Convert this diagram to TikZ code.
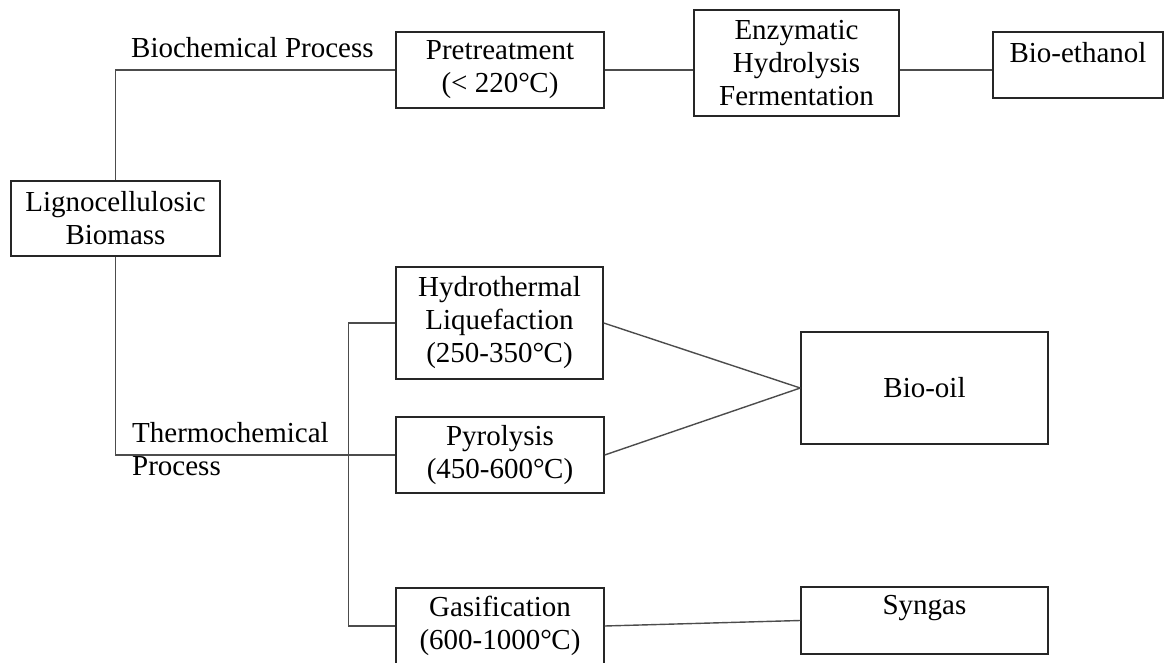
\documentclass[tikz,border=0pt]{standalone}
\usepackage{fontspec}
\setmainfont{Liberation Serif}
\usetikzlibrary{calc}
\newcommand{\degC}{°\kern-0.5ptC}

\tikzset{
  procbox/.style={draw=black!85, line width=1.4pt, align=center, inner sep=2pt,
    font=\fontsize{29}{33}\selectfont},
  link/.style={draw=black!70, line width=1.4pt},
  lbl/.style={inner sep=0pt, align=left, font=\fontsize{29}{33}\selectfont}
}

\begin{document}
\begin{tikzpicture}[x=1pt, y=-1pt]
			%%%%% START %%%%%
			\useasboundingbox (0,0) rectangle (1165,663);
			
			\node[procbox, minimum width=209, minimum height=75] (bio) at (115.5,218.5) {Lignocellulosic\\Biomass};
			
			% biochemical route
			\node[procbox, minimum width=208, minimum height=76] (pre) at (500,70) {Pretreatment\\(< 220\degC)};
			\node[procbox, minimum width=205, minimum height=106] (enz) at (796.5,63) {Enzymatic\\Hydrolysis\\Fermentation};
			\node[procbox, minimum width=170, minimum height=66, text depth=26] (eth) at (1078,65) {Bio-ethanol};
			
			% thermochemical route
			\node[procbox, minimum width=207, minimum height=112] (hyd) at (499.5,323) {Hydrothermal\\Liquefaction\\(250-350\degC)};
			\node[procbox, minimum width=208, minimum height=76] (pyr) at (500,455) {Pyrolysis\\(450-600\degC)};
			\node[procbox, minimum width=208, minimum height=76] (gas) at (500,626) {Gasification\\(600-1000\degC)};
			
			\node[procbox, minimum width=247, minimum height=112] (oil) at (924.5,388) {Bio-oil};
			\node[procbox, minimum width=247, minimum height=67, text depth=32] (syn) at (924.5,620.5) {Syngas};
			
			\node[lbl, anchor=base west] (biolbl) at (131,58) {Biochemical Process};
			\node[lbl, anchor=west] (thermlbl) at (132,449) {Thermochemical\\Process};
			
			\draw[link] (bio.north) |- (pre.west);
			\draw[link] (pre.east) -- (pre.east -| enz.west);
			\draw[link] (enz.east |- pre.east) -- (pre.east -| eth.west);
			
			\draw[link] (bio.south) |- (pyr.west);
			\draw[link] (hyd.west) -- ++(-47,0) |- (gas.west);
			
			\draw[link] (hyd.east) -- (oil.west);
			\draw[link] (pyr.east) -- (oil.west);
			\draw[link] (gas.east) -- (syn.west);
			%%%%% END %%%%%
\end{tikzpicture}
\end{document}
